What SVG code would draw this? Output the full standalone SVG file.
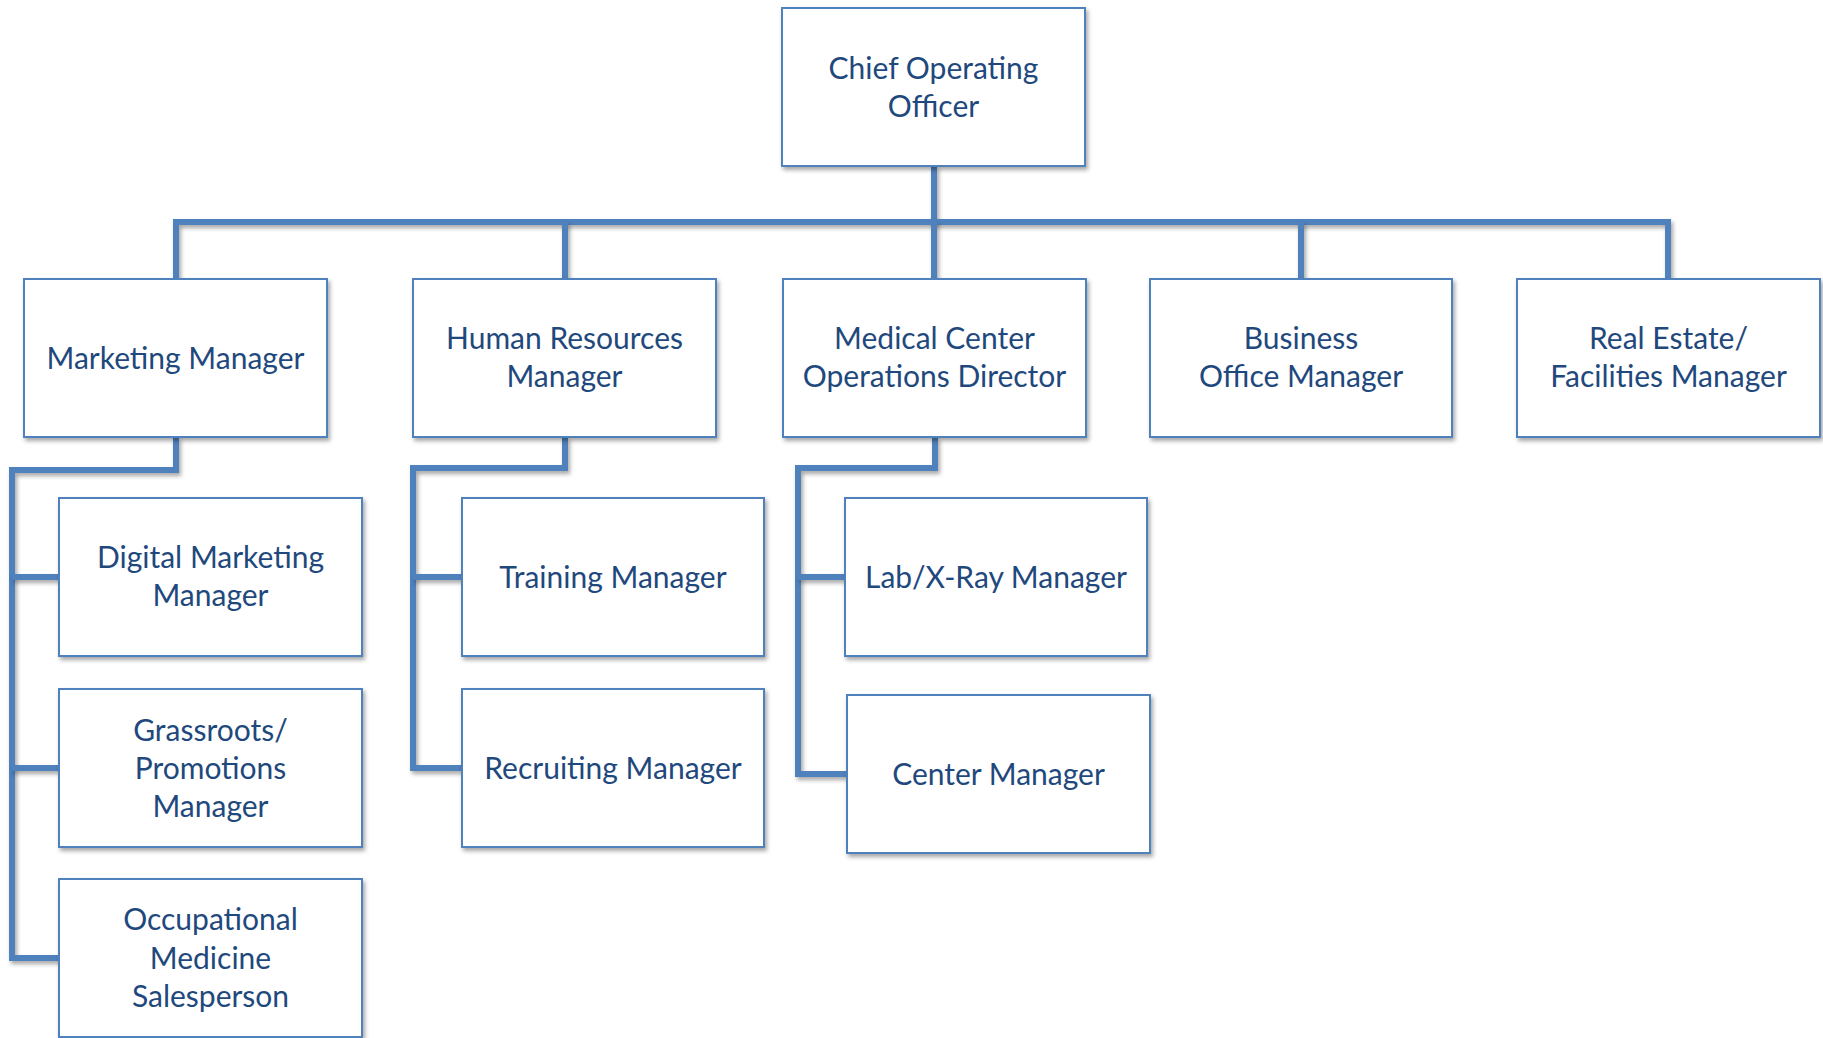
<svg xmlns="http://www.w3.org/2000/svg" width="1823" height="1038" viewBox="0 0 1823 1038">
<style>
.box{fill:#fff;stroke:#4F81BD;stroke-width:2;filter:url(#sh)}
.t{font-family:Lato,"Open Sans","Liberation Sans",sans-serif;font-size:30px;fill:#1F497D;text-anchor:middle}
.c{fill:none;stroke:#4F81BD;stroke-width:6;stroke-linejoin:miter;filter:url(#sh)}
</style>
<defs>
<filter id="sh" filterUnits="userSpaceOnUse" x="0" y="0" width="1823" height="1038">
<feDropShadow dx="2" dy="3" stdDeviation="2" flood-color="#000" flood-opacity="0.35"/>
</filter>
</defs>
<rect width="1823" height="1038" fill="#fff"/>
<g id="connectors">
<path class="c" d="M934,166 V222"/>
<path class="c" d="M176,279 V222 H1668 V279"/>
<path class="c" d="M565,222 V279"/>
<path class="c" d="M934,222 V279"/>
<path class="c" d="M1301,222 V279"/>
<path class="c" d="M176,437 V470 H12 V958 H59"/>
<path class="c" d="M12,577 H59"/>
<path class="c" d="M12,768 H59"/>
<path class="c" d="M565,437 V468 H413 V768 H462"/>
<path class="c" d="M413,577 H462"/>
<path class="c" d="M935,437 V468 H798 V774 H847"/>
<path class="c" d="M798,577 H845"/>
</g>
<g id="coo"><rect class="box" x="782" y="8" width="303" height="158"/><text class="t" x="933.5" y="79">Chief Operating</text><text class="t" x="933.5" y="117">Officer</text></g>
<g id="marketing"><rect class="box" x="24" y="279" width="303" height="158"/><text class="t" x="175.5" y="369">Marketing Manager</text></g>
<g id="hr"><rect class="box" x="413" y="279" width="303" height="158"/><text class="t" x="564.5" y="349">Human Resources</text><text class="t" x="564.5" y="387">Manager</text></g>
<g id="medical"><rect class="box" x="783" y="279" width="303" height="158"/><text class="t" x="934.5" y="349">Medical Center</text><text class="t" x="934.5" y="387">Operations Director</text></g>
<g id="business"><rect class="box" x="1150" y="279" width="302" height="158"/><text class="t" x="1301" y="349">Business</text><text class="t" x="1301" y="387">Office Manager</text></g>
<g id="realestate"><rect class="box" x="1517" y="279" width="303" height="158"/><text class="t" x="1668.5" y="349">Real Estate/</text><text class="t" x="1668.5" y="387">Facilities Manager</text></g>
<g id="digital"><rect class="box" x="59" y="498" width="303" height="158"/><text class="t" x="210.5" y="568">Digital Marketing</text><text class="t" x="210.5" y="606">Manager</text></g>
<g id="grassroots"><rect class="box" x="59" y="689" width="303" height="158"/><text class="t" x="210.5" y="741">Grassroots/</text><text class="t" x="210.5" y="779">Promotions</text><text class="t" x="210.5" y="817">Manager</text></g>
<g id="occupational"><rect class="box" x="59" y="879" width="303" height="158"/><text class="t" x="210.5" y="930">Occupational</text><text class="t" x="210.5" y="969">Medicine</text><text class="t" x="210.5" y="1007">Salesperson</text></g>
<g id="training"><rect class="box" x="462" y="498" width="302" height="158"/><text class="t" x="613" y="588">Training Manager</text></g>
<g id="recruiting"><rect class="box" x="462" y="689" width="302" height="158"/><text class="t" x="613" y="779">Recruiting Manager</text></g>
<g id="lab"><rect class="box" x="845" y="498" width="302" height="158"/><text class="t" x="996" y="588">Lab/X-Ray Manager</text></g>
<g id="center"><rect class="box" x="847" y="695" width="303" height="158"/><text class="t" x="998.5" y="785">Center Manager</text></g>
</svg>
